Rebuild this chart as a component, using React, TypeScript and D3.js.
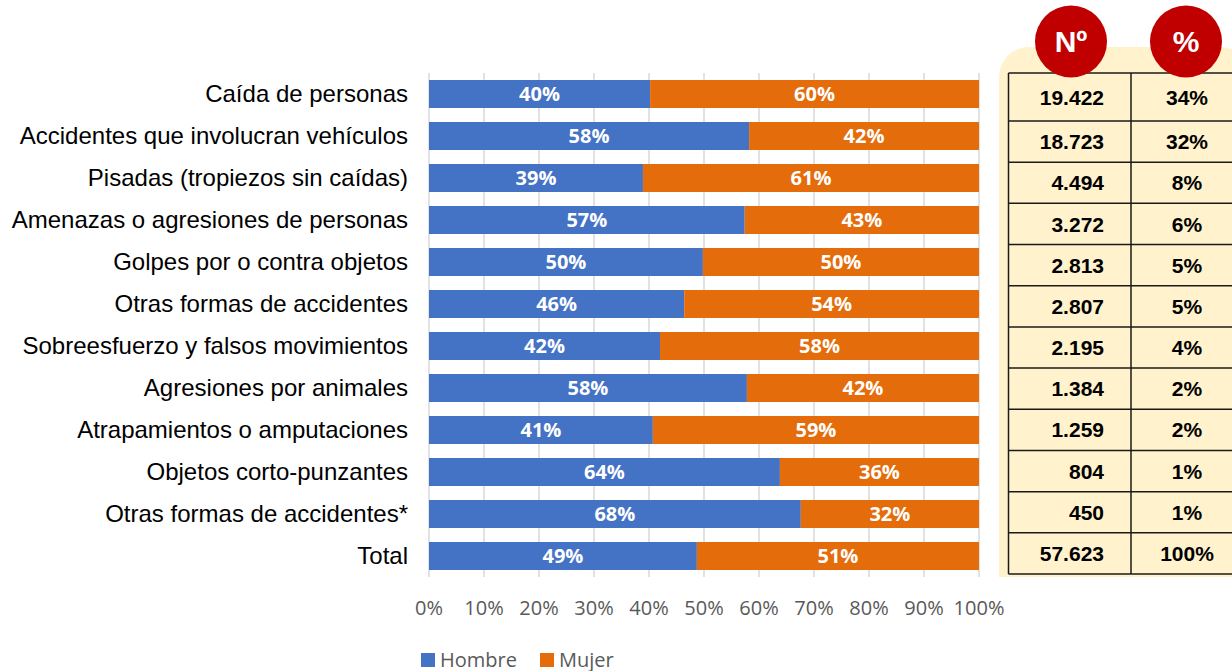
import * as d3 from 'd3';

// categories, top to bottom
const categories = [
  'Caída de personas',
  'Accidentes que involucran vehículos',
  'Pisadas (tropiezos sin caídas)',
  'Amenazas o agresiones de personas',
  'Golpes por o contra objetos',
  'Otras formas de accidentes',
  'Sobreesfuerzo y falsos movimientos',
  'Agresiones por animales',
  'Atrapamientos o amputaciones',
  'Objetos corto-punzantes',
  'Otras formas de accidentes*',
  'Total',
];

// share of men (%) per category; women = 100 - men
const hombre = [40.2, 58.2, 38.9, 57.4, 49.8, 46.4, 42.0, 57.8, 40.7, 63.8, 67.6, 48.7];

// side table
const casos = [19422, 18723, 4494, 3272, 2813, 2807, 2195, 1384, 1259, 804, 450, 57623];
const casosPct = [34, 32, 8, 6, 5, 5, 4, 2, 2, 1, 1, 100];

const xTicks = [0, 10, 20, 30, 40, 50, 60, 70, 80, 90, 100];
const series = [
  { key: 'Hombre', color: '#4472C4' },
  { key: 'Mujer', color: '#E46C0A' },
];

const W = 1232;
const H = 671;
const esLocale = d3.formatLocale({ decimal: ',', thousands: '.', grouping: [3], currency: ['', '€'] });
const fmtN = esLocale.format(',d');

const SANS = 'Liberation Sans, Arial, sans-serif';
const OPEN = '"Open Sans", sans-serif';

export default function App() {
  const x = d3.scaleLinear().domain([0, 100]).range([429, 979]);
  const y = d3.scaleBand<string>().domain(categories.map((c, i) => String(i))).range([73, 577]).paddingInner(1 / 3).paddingOuter(1 / 6);

  const rows = categories.map((c, i) => ({ c, i, h: hombre[i], m: 100 - hombre[i] }));

  // table row edges: header row is taller, the rest share the remaining height
  const tableTop = 73;
  const firstEdge = 121;
  const tableBottom = 574;
  const rowScale = d3.scaleLinear().domain([0, categories.length - 1]).range([firstEdge, tableBottom]);
  const edges = [tableTop, ...d3.range(categories.length).map((i) => rowScale(i))];

  const colLeft = 1008.5;
  const colMid = 1131;
  const colRight = 1256;

  const circles = [
    { label: 'Nº', cx: 1071 },
    { label: '%', cx: 1186 },
  ];

  const bgPath = (() => {
    const p = d3.path();
    const x0 = 999, y0 = 47, x1 = 1250, y1 = 577, r = 30;
    p.moveTo(x0, y1);
    p.lineTo(x0, y0 + r);
    p.arcTo(x0, y0, x0 + r, y0, r);
    p.lineTo(x1 - r, y0);
    p.arcTo(x1, y0, x1, y0 + r, r);
    p.lineTo(x1, y1);
    p.closePath();
    return p.toString();
  })();

  return (
    <svg width={W} height={H} style={{ position: 'absolute', left: 0, top: 0, display: 'block', background: '#fff' }}>
      {/* gridlines */}
      {xTicks.map((t) => (
        <line key={t} x1={x(t)} x2={x(t)} y1={73} y2={577} stroke="#d9d9d9" strokeWidth={1.5} />
      ))}

      {/* stacked bars */}
      {rows.map((r) => {
        const yy = y(String(r.i)) ?? 0;
        const bh = y.bandwidth();
        const cy = yy + bh / 2;
        return (
          <g key={r.i}>
            <rect x={x(0)} y={yy} width={x(r.h) - x(0)} height={bh} fill={series[0].color} />
            <rect x={x(r.h)} y={yy} width={x(100) - x(r.h)} height={bh} fill={series[1].color} />
            <text x={(x(0) + x(r.h)) / 2} y={cy} dy="0.36em" textAnchor="middle" fill="#fff" fontFamily={OPEN} fontWeight={700} fontSize={20}>
              {Math.round(r.h)}%
            </text>
            <text x={(x(r.h) + x(100)) / 2} y={cy} dy="0.36em" textAnchor="middle" fill="#fff" fontFamily={OPEN} fontWeight={700} fontSize={20}>
              {Math.round(r.m)}%
            </text>
            <text x={408} y={cy} dy="0.35em" textAnchor="end" fill="#000" fontFamily={SANS} fontSize={24}>
              {r.c}
            </text>
          </g>
        );
      })}

      {/* x axis labels */}
      {xTicks.map((t) => (
        <text key={t} x={x(t)} y={615} textAnchor="middle" fill="#595959" fontFamily={OPEN} fontSize={20}>
          {t}%
        </text>
      ))}

      {/* legend */}
      <g>
        <rect x={421} y={653} width={14} height={14} fill={series[0].color} />
        <text x={440} y={667} fill="#595959" fontFamily={OPEN} fontSize={20}>{series[0].key}</text>
        <rect x={540} y={653} width={14} height={14} fill={series[1].color} />
        <text x={559} y={667} fill="#595959" fontFamily={OPEN} fontSize={20}>{series[1].key}</text>
      </g>

      {/* side table */}
      <path d={bgPath} fill="#FFF2CC" />
      {edges.map((e, i) => (
        <line key={i} x1={colLeft} x2={colRight} y1={e} y2={e} stroke="#1a1a1a" strokeWidth={1.5} />
      ))}
      {[colLeft, colMid, colRight].map((cx, i) => (
        <line key={i} x1={cx} x2={cx} y1={tableTop} y2={tableBottom} stroke="#1a1a1a" strokeWidth={1.5} />
      ))}
      {casos.map((n, i) => {
        const cy = (edges[i] + edges[i + 1]) / 2;
        return (
          <g key={i}>
            <text x={1104} y={cy} dy="0.36em" textAnchor="end" fill="#000" fontFamily={SANS} fontWeight={700} fontSize={21}>
              {fmtN(n)}
            </text>
            <text x={1187} y={cy} dy="0.36em" textAnchor="middle" fill="#000" fontFamily={SANS} fontWeight={700} fontSize={21}>
              {casosPct[i]}%
            </text>
          </g>
        );
      })}

      {/* header circles */}
      {circles.map((c) => (
        <g key={c.label}>
          <circle cx={c.cx} cy={41.5} r={36} fill="#C00000" />
          <text x={c.cx} y={41.5} dy="0.36em" textAnchor="middle" fill="#fff" fontFamily={SANS} fontWeight={700} fontSize={30}>
            {c.label}
          </text>
        </g>
      ))}
    </svg>
  );
}
